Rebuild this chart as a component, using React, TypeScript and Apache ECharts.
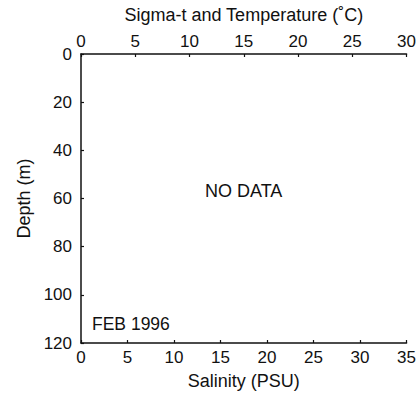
import React, { useEffect, useRef } from "react";
import * as echarts from "echarts";

const salinityTicks = [0, 5, 10, 15, 20, 25, 30, 35];
const tempTicks = [0, 5, 10, 15, 20, 25, 30];
const depthTicks = [0, 20, 40, 60, 80, 100, 120];
const profileData: number[][] = []; // no data for this month
const noDataText = "NO DATA";
const monthLabel = "FEB 1996";

export default function App() {
  const ref = useRef<HTMLDivElement>(null);
  useEffect(() => {
    if (!ref.current) return;
    const chart = echarts.init(ref.current, undefined, { renderer: "svg" });
    const font = "Liberation Sans, Arial, sans-serif";
    const axisCommon = {
      axisLine: { show: true, onZero: false, lineStyle: { color: "#111", width: 1.5 } },
      axisTick: { show: true, inside: true, length: 3, lineStyle: { color: "#111", width: 1.2 } },
      splitLine: { show: false },
      axisLabel: { color: "#111", fontSize: 17, fontFamily: font },
      nameTextStyle: { color: "#111", fontSize: 18, fontFamily: font },
    };
    chart.setOption({
      animation: false,
      backgroundColor: "#fff",
      grid: { left: 81, right: 11, top: 54, bottom: 54 },
      xAxis: [
        {
          ...axisCommon,
          type: "value",
          position: "bottom",
          min: salinityTicks[0],
          max: salinityTicks[salinityTicks.length - 1],
          interval: 5,
          name: "Salinity (PSU)",
          nameLocation: "middle",
          nameGap: 29,
          axisLabel: { ...axisCommon.axisLabel, margin: 6 },
        },
        {
          ...axisCommon,
          type: "value",
          position: "top",
          min: tempTicks[0],
          max: tempTicks[tempTicks.length - 1],
          interval: 5,
          name: "Sigma-t and Temperature (˚C)",
          nameLocation: "middle",
          nameGap: 30,
          axisLabel: { ...axisCommon.axisLabel, margin: 4 },
        },
      ],
      yAxis: {
        ...axisCommon,
        type: "value",
        inverse: true,
        min: depthTicks[0],
        max: depthTicks[depthTicks.length - 1],
        interval: 20,
        name: "Depth (m)",
        nameLocation: "middle",
        nameGap: 48,
        nameRotate: 90,
        axisLabel: { ...axisCommon.axisLabel, margin: 9 },
      },
      series: [
        {
          type: "line",
          xAxisIndex: 0,
          data: profileData,
          showSymbol: false,
        },
      ],
      graphic: [
        {
          type: "text",
          left: 205,
          top: 182,
          style: { text: noDataText, fill: "#111", font: `18px ${font}` },
        },
        {
          type: "text",
          left: 92,
          top: 315,
          style: { text: monthLabel, fill: "#111", font: `17.5px ${font}` },
        },
      ],
    });
    return () => chart.dispose();
  }, []);
  return (
    <div style={{ position: "fixed", left: 0, top: 0, width: 419, height: 397, background: "#fff" }}>
      <div ref={ref} style={{ width: 419, height: 397 }} />
    </div>
  );
}
